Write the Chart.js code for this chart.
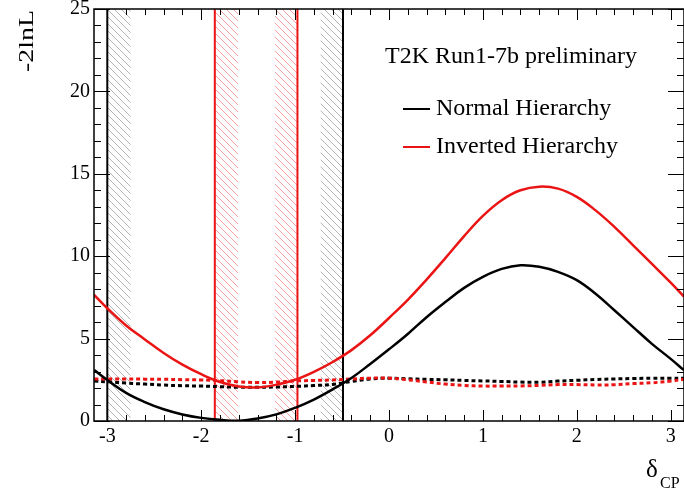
<!DOCTYPE html>
<html><head><meta charset="utf-8">
<script src="https://cdn.jsdelivr.net/npm/chart.js@4.4.0/dist/chart.umd.min.js"></script>
<style>html,body{margin:0;padding:0;background:#fff}canvas{display:block}</style>
</head><body>
<canvas id="c" width="684" height="494"></canvas>
<script>
// ---- data ----
const deltaCP = [-3.14,-3.0,-2.8,-2.6,-2.4,-2.2,-2.0,-1.8,-1.6,-1.4,-1.2,-1.0,-0.8,-0.6,-0.4,-0.2,0,0.2,0.4,0.6,0.8,1.0,1.2,1.4,1.6,1.8,2.0,2.2,2.4,2.6,2.8,3.0,3.14];
const nhChi2  = [3.09,2.49,1.71,1.15,0.71,0.40,0.19,0.07,0.02,0.15,0.40,0.80,1.30,1.92,2.61,3.46,4.35,5.28,6.30,7.22,8.08,8.75,9.23,9.45,9.36,9.05,8.55,7.72,6.72,5.70,4.68,3.77,3.09];
const ihChi2  = [7.65,6.84,5.80,4.95,4.13,3.42,2.84,2.37,2.10,2.04,2.20,2.50,2.98,3.58,4.30,5.20,6.25,7.35,8.58,9.88,11.22,12.45,13.40,14.00,14.22,14.10,13.60,12.78,11.78,10.66,9.53,8.39,7.55];
const nhCrit  = [2.42,2.38,2.30,2.24,2.18,2.14,2.12,2.08,2.05,2.05,2.06,2.10,2.15,2.22,2.40,2.55,2.60,2.56,2.53,2.50,2.46,2.43,2.40,2.36,2.35,2.42,2.47,2.52,2.55,2.58,2.59,2.59,2.59];
const ihCrit  = [2.55,2.55,2.55,2.54,2.53,2.51,2.49,2.45,2.38,2.33,2.36,2.43,2.46,2.49,2.55,2.60,2.60,2.50,2.37,2.24,2.16,2.12,2.12,2.13,2.16,2.21,2.21,2.19,2.20,2.27,2.32,2.42,2.53];
const nhLimits = [-3.00, -0.49];
const ihLimits = [-1.855, -0.975];
const nhHatch = [[-3.00, -2.75], [-0.73, -0.49]];
const ihHatch = [[-1.855, -1.607], [-1.217, -0.975]];
const yTicks = [0,5,10,15,20,25];
const xTicks = [-3,-2,-1,0,1,2,3];
const legendTitle = 'T2K Run1-7b preliminary';
const legendNames = ['Normal Hierarchy', 'Inverted Hierarchy'];

const BLACK = '#000000';
const RED = 'rgb(235,20,20)';
const SERIF = '"Liberation Serif","Times New Roman",serif';

const canvas = document.getElementById('c');
const mctx = canvas.getContext('2d');
function hatch(color){
  const s = 7;
  const t = document.createElement('canvas'); t.width = s; t.height = s;
  const g = t.getContext('2d');
  g.strokeStyle = color; g.lineWidth = 1;
  g.beginPath();
  g.moveTo(-1,-1); g.lineTo(s+1,s+1);
  g.moveTo(-1,s-1); g.lineTo(1,s+1);
  g.moveTo(s-1,-1); g.lineTo(s+1,1);
  g.stroke();
  return mctx.createPattern(t,'repeat');
}
const grayPat = hatch('rgba(130,130,130,0.6)');
const redPat = hatch('rgba(240,110,110,0.65)');

const pts = (ys) => deltaCP.map((x,i)=>({x:x,y:ys[i]}));
const datasets = [];
nhHatch.forEach(h => datasets.push({data:[{x:h[0],y:25},{x:h[1],y:25}], fill:'origin', backgroundColor:grayPat, borderWidth:0, pointRadius:0, order:10}));
ihHatch.forEach(h => datasets.push({data:[{x:h[0],y:25},{x:h[1],y:25}], fill:'origin', backgroundColor:redPat, borderWidth:0, pointRadius:0, order:10}));
nhLimits.forEach(v => datasets.push({data:[{x:v,y:0},{x:v,y:25}], borderColor:BLACK, borderWidth:2, pointRadius:0, order:5}));
ihLimits.forEach(v => datasets.push({data:[{x:v,y:0},{x:v,y:25}], borderColor:RED, borderWidth:2, pointRadius:0, order:5}));
datasets.push({data:pts(nhCrit), borderColor:BLACK, borderWidth:3, borderDash:[4,3], pointRadius:0, tension:0.4, order:3});
datasets.push({data:pts(ihCrit), borderColor:RED, borderWidth:3, borderDash:[4,3], pointRadius:0, tension:0.4, order:2});
datasets.push({data:pts(nhChi2), borderColor:BLACK, borderWidth:2.5, pointRadius:0, tension:0.4, order:1});
datasets.push({data:pts(ihChi2), borderColor:RED, borderWidth:2.5, pointRadius:0, tension:0.4, order:0});

const decor = {
  id:'decor',
  afterDraw(chart){
    const {ctx, chartArea:a, scales:{x,y}} = chart;
    ctx.save();
    // ticks
    ctx.strokeStyle = '#000'; ctx.lineWidth = 1;
    ctx.beginPath();
    for (let k=-15;k<=15;k++){
      const v = k/5; const px = Math.round(x.getPixelForValue(v))+0.5;
      const L = (k%5===0) ? 11 : 6;
      ctx.moveTo(px, a.bottom); ctx.lineTo(px, a.bottom-L);
      ctx.moveTo(px, a.top); ctx.lineTo(px, a.top+L);
    }
    for (let k=0;k<=25;k++){
      const py = Math.round(y.getPixelForValue(k))+0.5;
      const L = (k%5===0) ? 16 : 7;
      ctx.moveTo(a.left, py); ctx.lineTo(a.left+L, py);
      ctx.moveTo(a.right, py); ctx.lineTo(a.right-L, py);
    }
    ctx.stroke();
    ctx.lineWidth = 1.5;
    ctx.strokeRect(a.left, a.top, a.right-a.left, a.bottom-a.top);
    // legend
    ctx.fillStyle = '#000';
    ctx.font = '24px ' + SERIF;
    ctx.textAlign = 'left'; ctx.textBaseline = 'alphabetic';
    ctx.fillText(legendTitle, 385, 63);
    ctx.fillText(legendNames[0], 436, 115);
    ctx.fillText(legendNames[1], 436, 153);
    ctx.lineWidth = 2;
    ctx.strokeStyle = BLACK; ctx.beginPath(); ctx.moveTo(403,109); ctx.lineTo(430,109); ctx.stroke();
    ctx.strokeStyle = RED; ctx.beginPath(); ctx.moveTo(403,147); ctx.lineTo(430,147); ctx.stroke();
    // y title
    ctx.save();
    ctx.font = '20px ' + SERIF;
    const w = ctx.measureText('-2lnL').width;
    ctx.translate(33, 72); ctx.rotate(-Math.PI/2); ctx.scale(62/w, 1);
    ctx.fillText('-2lnL', 0, 0);
    ctx.restore();
    // x title
    ctx.font = '25px ' + SERIF;
    ctx.fillText('δ', 646, 477);
    ctx.font = '16px ' + SERIF;
    ctx.fillText('CP', 660, 488);
    ctx.restore();
  }
};

new Chart(canvas, {
  type:'line',
  data:{datasets:datasets},
  plugins:[decor],
  options:{
    responsive:false, animation:false, devicePixelRatio:1,
    layout:{padding:{top:9,left:0,right:0,bottom:0}},
    plugins:{legend:{display:false}, tooltip:{enabled:false}},
    elements:{line:{borderCapStyle:'butt'}},
    scales:{
      x:{type:'linear', min:-Math.PI, max:Math.PI,
        grid:{display:false, drawTicks:false}, border:{display:false},
        ticks:{includeBounds:false, stepSize:1, padding:4, color:'#000', font:{family:SERIF, size:20},
          callback:(v)=> xTicks.includes(v) ? String(v) : ''},
        afterFit:(s)=>{ s.height = 73; s.paddingLeft=0; s.paddingRight=0; }
      },
      y:{type:'linear', min:0, max:25,
        grid:{display:false, drawTicks:false}, border:{display:false},
        ticks:{stepSize:5, padding:4, color:'#000', font:{family:SERIF, size:20},
          callback:(v)=> yTicks.includes(v) ? String(v) : ''},
        afterFit:(s)=>{ s.width = 94; s.paddingTop=0; s.paddingBottom=0; }
      }
    }
  }
});
</script>
</body></html>
